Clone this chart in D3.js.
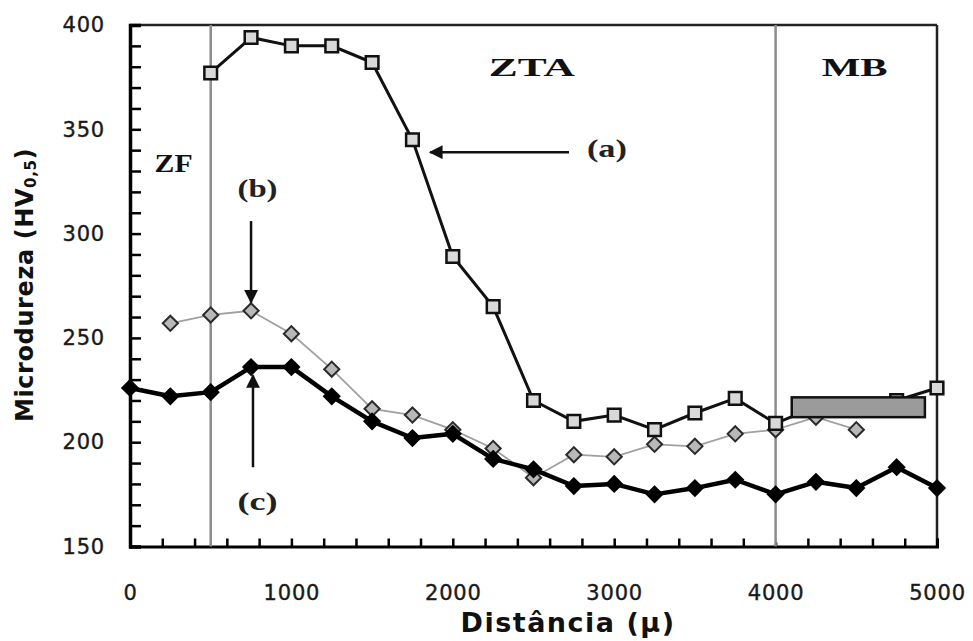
<!DOCTYPE html>
<html>
<head>
<meta charset="utf-8">
<script src="https://cdn.jsdelivr.net/npm/d3@7/dist/d3.min.js"></script>
<style>
  body { margin: 0; background: #fff; }
  svg { display: block; }
</style>
</head>
<body>
<svg id="chart" width="973" height="641"></svg>
<script>
'use strict';

// distance (µ) of every indentation
const distance = [0, 250, 500, 750, 1000, 1250, 1500, 1750, 2000, 2250, 2500,
                  2750, 3000, 3250, 3500, 3750, 4000, 4250, 4500, 4750, 5000];

// (a) open squares
const serieA = [null, null, 377, 394, 390, 390, 382, 345, 289, 265, 220,
                210, 213, 206, 214, 221, 209, 217, 216, 220, 226];
// (b) grey diamonds
const serieB = [null, 257, 261, 263, 252, 235, 216, 213, 206, 197, 183,
                194, 193, 199, 198, 204, 206, 212, 206, null, null];
// (c) black diamonds
const serieC = [226, 222, 224, 236, 236, 222, 210, 202, 204, 192, 187,
                179, 180, 175, 178, 182, 175, 181, 178, 188, 178];

const xLabels = [0, 1000, 2000, 3000, 4000, 5000];
const yLabels = [150, 200, 250, 300, 350, 400];

// zone limits (ZF | ZTA | MB)
const zoneLimits = [500, 4000];
const zoneNames = [
  {name: 'ZF',  x: 270,  y: 334, w: 38},
  {name: 'ZTA', x: 2490, y: 380, w: 86},
  {name: 'MB',  x: 4490, y: 380, w: 66}
];

// curve callouts
const callouts = [
  {label: '(a)', tx: 2955, ty: 341, x1: 2720, y1: 339, x2: 1860, y2: 339},
  {label: '(b)', tx: 790,  ty: 322, x1: 750,  y1: 306, x2: 750,  y2: 267},
  {label: '(c)', tx: 790,  ty: 172, x1: 762,  y1: 188, x2: 762,  y2: 232}
];

// grey band in MB zone
const band = {x0: 4100, x1: 4925, y0: 212, y1: 221.5};

const svg = d3.select('#chart');

const x = d3.scaleLinear().domain([0, 5000]).range([130, 937]);
const y = d3.scaleLinear().domain([150, 400]).range([546.5, 25]);

// defs: arrow head
svg.append('defs').append('marker')
    .attr('id', 'head')
    .attr('viewBox', '0 0 10 10')
    .attr('refX', 9).attr('refY', 5)
    .attr('markerWidth', 6).attr('markerHeight', 5.5)
    .attr('markerUnits', 'strokeWidth')
    .attr('orient', 'auto')
  .append('path')
    .attr('d', 'M0,0 L10,5 L0,10 Z')
    .attr('fill', '#111');

// frame top/right
svg.append('line')
    .attr('x1', x(0)).attr('x2', x(5000))
    .attr('y1', y(400)).attr('y2', y(400))
    .attr('stroke', '#222').attr('stroke-width', 2.5);
svg.append('line')
    .attr('x1', x(5000)).attr('x2', x(5000))
    .attr('y1', y(400)).attr('y2', y(150))
    .attr('stroke', '#222').attr('stroke-width', 2.5);

// axes - minor inward ticks
svg.append('g')
    .attr('transform', `translate(0,${y(150)})`)
    .call(d3.axisBottom(x).tickValues(d3.range(0, 5001, 200)).tickSize(-8).tickFormat(''))
    .call(g => g.select('.domain').attr('stroke', '#000').attr('stroke-width', 3))
    .call(g => g.selectAll('.tick line').attr('stroke', '#000').attr('stroke-width', 2.5));

svg.append('g')
    .attr('transform', `translate(${x(0)},0)`)
    .call(d3.axisLeft(y).tickValues(d3.range(150, 401, 10)).tickSize(-11).tickFormat(''))
    .call(g => g.select('.domain').attr('stroke', '#000').attr('stroke-width', 3.5))
    .call(g => g.selectAll('.tick line').attr('stroke', '#000').attr('stroke-width', 2.5));

// axis labels
const tickText = g => g.selectAll('text')
    .attr('font-family', 'DejaVu Sans, Verdana, sans-serif')
    .attr('font-size', 21)
    .attr('letter-spacing', 0.8)
    .attr('fill', '#1a1a1a')
    .attr('stroke', '#1a1a1a')
    .attr('stroke-width', 0.4);

svg.append('g')
    .attr('transform', `translate(0,${y(150)})`)
    .call(d3.axisBottom(x).tickValues(xLabels).tickSize(0).tickPadding(39).tickFormat(d3.format('d')))
    .call(g => g.select('.domain').remove())
    .call(tickText);

svg.append('g')
    .attr('transform', `translate(${x(0)},0)`)
    .call(d3.axisLeft(y).tickValues(yLabels).tickSize(0).tickPadding(25).tickFormat(d3.format('d')))
    .call(g => g.select('.domain').remove())
    .call(tickText);

// axis titles
svg.append('text')
    .attr('x', 568).attr('y', 632)
    .attr('text-anchor', 'middle')
    .attr('font-family', 'DejaVu Sans, Verdana, sans-serif')
    .attr('font-weight', 'bold')
    .attr('font-size', 27)
    .attr('letter-spacing', 1.5)
    .attr('fill', '#111')
    .text('Distância (µ)');

const yt = svg.append('text')
    .attr('transform', 'translate(33,285) rotate(-90)')
    .attr('text-anchor', 'middle')
    .attr('font-family', 'DejaVu Sans, Verdana, sans-serif')
    .attr('font-weight', 'bold')
    .attr('font-size', 24)
    .attr('letter-spacing', 0.6)
    .attr('fill', '#111');
yt.append('tspan').text('Microdureza (HV');
yt.append('tspan').attr('font-size', 15).attr('dy', 3).text('0,5');
yt.append('tspan').attr('dy', -3).text(')');

// lines
const pts = s => distance.map((d, i) => ({d: d, v: s[i]}));
const line = d3.line()
    .defined(p => p.v !== null)
    .x(p => x(p.d))
    .y(p => y(p.v));

svg.append('path')
    .datum(pts(serieB))
    .attr('d', line)
    .attr('fill', 'none')
    .attr('stroke', '#a0a0a0')
    .attr('stroke-width', 1.8);

svg.append('path')
    .datum(pts(serieC))
    .attr('d', line)
    .attr('fill', 'none')
    .attr('stroke', '#000')
    .attr('stroke-width', 4.5)
    .attr('stroke-linejoin', 'round');

svg.append('path')
    .datum(pts(serieA))
    .attr('d', line)
    .attr('fill', 'none')
    .attr('stroke', '#111')
    .attr('stroke-width', 3);

// zone separators (they cut the curves)
svg.selectAll('.halo')
    .data(zoneLimits)
  .join('line')
    .attr('class', 'halo')
    .attr('x1', d => x(d)).attr('x2', d => x(d))
    .attr('y1', y(398)).attr('y2', y(152))
    .attr('stroke', '#fff').attr('stroke-width', 6);
svg.selectAll('.zone')
    .data(zoneLimits)
  .join('line')
    .attr('class', 'zone')
    .attr('x1', d => x(d)).attr('x2', d => x(d))
    .attr('y1', y(400)).attr('y2', y(150))
    .attr('stroke', '#8c8c8c').attr('stroke-width', 2.5);

// markers
const square45 = {
  draw(ctx, size) {
    const r = Math.sqrt(size / 2);
    ctx.moveTo(0, -r);
    ctx.lineTo(r, 0);
    ctx.lineTo(0, r);
    ctx.lineTo(-r, 0);
    ctx.closePath();
  }
};
const sq = d3.symbol().type(d3.symbolSquare).size(160);
const diaB = d3.symbol().type(square45).size(115);
const diaC = d3.symbol().type(square45).size(130);

svg.append('g').selectAll('path')
    .data(pts(serieB).filter(p => p.v !== null))
  .join('path')
    .attr('d', diaB)
    .attr('transform', p => `translate(${x(p.d)},${y(p.v)})`)
    .attr('fill', '#b8b8b8')
    .attr('stroke', '#2a2a2a')
    .attr('stroke-width', 2);

svg.append('g').selectAll('path')
    .data(pts(serieC))
  .join('path')
    .attr('d', diaC)
    .attr('transform', p => `translate(${x(p.d)},${y(p.v)})`)
    .attr('fill', '#000')
    .attr('stroke', '#000')
    .attr('stroke-width', 1.5);

svg.append('g').selectAll('path')
    .data(pts(serieA).filter(p => p.v !== null))
  .join('path')
    .attr('d', sq)
    .attr('transform', p => `translate(${x(p.d)},${y(p.v)})`)
    .attr('fill', '#d9d9d9')
    .attr('stroke', '#111')
    .attr('stroke-width', 2.5);

// grey band
svg.append('rect')
    .attr('x', x(band.x0))
    .attr('y', y(band.y1))
    .attr('width', x(band.x1) - x(band.x0))
    .attr('height', y(band.y0) - y(band.y1))
    .attr('fill', '#9b9b9b')
    .attr('stroke', '#111')
    .attr('stroke-width', 2.5);

// zone names
svg.selectAll('.zname')
    .data(zoneNames)
  .join('text')
    .attr('class', 'zname')
    .attr('x', d => x(d.x) - d.w / 2)
    .attr('y', d => y(d.y))
    .attr('dy', '0.35em')
    .attr('textLength', d => d.w)
    .attr('lengthAdjust', 'spacingAndGlyphs')
    .attr('font-family', 'Liberation Serif, Times New Roman, serif')
    .attr('font-weight', 'bold')
    .attr('font-size', 26)
    .attr('fill', '#111')
    .text(d => d.name);

// callouts
svg.selectAll('.arrow')
    .data(callouts)
  .join('line')
    .attr('class', 'arrow')
    .attr('x1', d => x(d.x1)).attr('y1', d => y(d.y1))
    .attr('x2', d => x(d.x2)).attr('y2', d => y(d.y2))
    .attr('stroke', '#111')
    .attr('stroke-width', 2.5)
    .attr('marker-end', 'url(#head)');

svg.selectAll('.clabel')
    .data(callouts)
  .join('text')
    .attr('class', 'clabel')
    .attr('x', d => x(d.tx) - 20)
    .attr('y', d => y(d.ty))
    .attr('dy', '0.35em')
    .attr('textLength', 40)
    .attr('lengthAdjust', 'spacingAndGlyphs')
    .attr('font-family', 'Liberation Serif, Times New Roman, serif')
    .attr('font-weight', 'bold')
    .attr('font-size', 26)
    .attr('fill', '#222')
    .text(d => d.label);
</script>
</body>
</html>
